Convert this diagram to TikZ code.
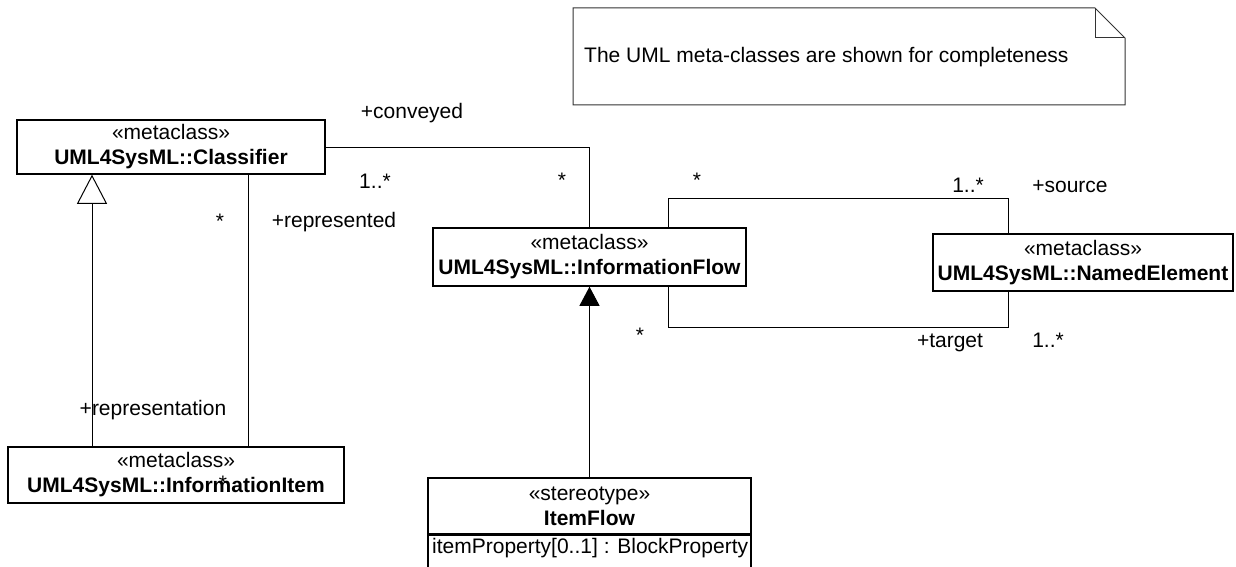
\documentclass[tikz,border=0pt]{standalone}
\usepackage{fontspec}
\setmainfont{Liberation Sans}
\usepackage{tikz}
\usetikzlibrary{arrows.meta,calc}

\tikzset{
  metabox/.style={draw,line width=1.5pt,align=center,inner sep=0pt},
  assoc/.style={line width=1pt},
  gen/.style={assoc,-{Triangle[open,length=29pt,width=30pt]}},
  ext/.style={assoc,-{Triangle[length=19pt,width=20pt]}},
  lbl/.style={anchor=base,inner sep=0pt}
}

\begin{document}
\begin{tikzpicture}[x=1pt,y=-1pt,font=\fontsize{21}{25}\selectfont]
\useasboundingbox (0,0) rectangle (1236,567);

% Note
\draw[line width=1pt,black!80] (573,8) -- (1095,8) -- (1125,38) -- (1125,105) -- (573,105) -- cycle;
\draw[line width=1pt,black!80] (1095,8) -- (1095,38) -- (1125,38);
\node[anchor=base west,inner sep=0pt] (notetext) at (584,63) {The UML meta-classes are shown for completeness};

% Meta-classes
\node[metabox,minimum width=308pt,minimum height=54pt] (classifier) at (171,147) {«metaclass»\\\textbf{UML4SysML::Classifier}};
\node[metabox,minimum width=313pt,minimum height=58pt] (infoflow) at (589.5,257) {«metaclass»\\\textbf{UML4SysML::InformationFlow}};
\node[metabox,minimum width=300pt,minimum height=57pt] (namedelem) at (1083,262.5) {«metaclass»\\\textbf{UML4SysML::NamedElement}};
\node[metabox,minimum width=336pt,minimum height=56pt] (infoitem) at (176,475) {«metaclass»\\\textbf{UML4SysML::InformationItem}};

% Stereotype ItemFlow
\node[metabox,minimum width=323pt,minimum height=56pt] (itemflow) at (589.5,506) {«stereotype»\\\textbf{ItemFlow}};
\node[metabox,minimum width=323pt,minimum height=40pt,anchor=north] (itemattr) at (itemflow.south) {};
\node[anchor=base west,inner sep=0pt] (attrtext) at (432,553) {itemProperty[0..1] : BlockProperty};

% Connectors
\draw[gen] ([xshift=-84pt]infoitem.north) -- ([xshift=-84pt]infoitem.north |- classifier.south);
\draw[assoc] ([xshift=72pt]infoitem.north) -- ([xshift=72pt]infoitem.north |- classifier.south);
\draw[assoc] (classifier.east) -| (infoflow.north);
\draw[assoc] ([xshift=78.5pt]infoflow.north) -- ++(0,-29) -| ([xshift=-75pt]namedelem.north);
\draw[assoc] ([xshift=78.5pt]infoflow.south) -- ++(0,41) -| ([xshift=-75pt]namedelem.south);
\draw[ext] (itemflow.north) -- (infoflow.south);

% Role names and multiplicities
\node[lbl] (lconveyed) at (412,118) {+conveyed};
\node[lbl] (lconvmult) at (375,188) {1..*};
\node[lbl] (lconvstar) at (562,187) {*};
\node[lbl] (lsrcstar) at (697,187) {*};
\node[lbl] (lsrcmult) at (968,192) {1..*};
\node[lbl] (lsource) at (1070,192) {+source};
\node[lbl] (lrepstar) at (220,228) {*};
\node[lbl] (lrepresented) at (334,227) {+represented};
\node[lbl] (lrepresentation) at (153,415) {+representation};
\node[lbl] (litemstar) at (223,490) {*};
\node[lbl] (ltgtstar) at (640,342) {*};
\node[lbl] (ltarget) at (950,347) {+target};
\node[lbl] (ltgtmult) at (1048,347) {1..*};
\end{tikzpicture}
\end{document}
